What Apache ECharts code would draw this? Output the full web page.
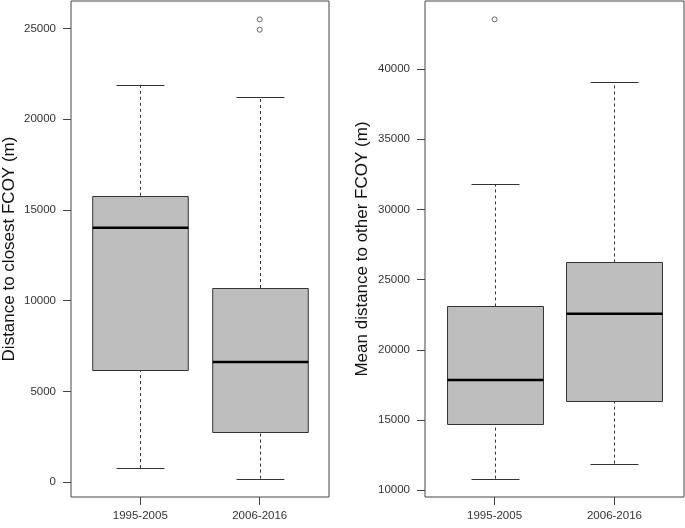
<!DOCTYPE html>
<html>
<head>
<meta charset="utf-8">
<script src="https://cdn.jsdelivr.net/npm/echarts@6/dist/echarts.min.js"></script>
<style>
html,body{margin:0;padding:0;background:#fff;}
#chart{width:685px;height:528px;}
</style>
</head>
<body>
<div id="chart"></div>
<script>
// ---- data ----
const categories = ['1995-2005', '2006-2016'];
// [min whisker, Q1, median, Q3, max whisker]
const closestStats = [
  [780, 6200, 14020, 15780, 21900],
  [200, 2750, 6620, 10700, 21240]
];
const closestOutliers = [[2, 25500], [2, 24930]];
const meanStats = [
  [10830, 14700, 17850, 23090, 31800],
  [11900, 16330, 22570, 26220, 39070]
];
const meanOutliers = [[1, 43530]];
const closestTicks = [0, 5000, 10000, 15000, 20000, 25000];
const meanTicks = [10000, 15000, 20000, 25000, 30000, 35000, 40000];
const closestTitle = 'Distance to closest FCOY (m)';
const meanTitle = 'Mean distance to other FCOY (m)';

// ---- helpers ----
function rng(stats, outs) {
  let lo = Infinity, hi = -Infinity;
  stats.forEach(s => s.forEach(v => { lo = Math.min(lo, v); hi = Math.max(hi, v); }));
  outs.forEach(o => { lo = Math.min(lo, o[1]); hi = Math.max(hi, o[1]); });
  const pad = (hi - lo) * 0.04;
  return [lo - pad, hi + pad];
}
function boxData(stats) {
  return stats.map((s, i) => [i + 1].concat(s));
}
const FONT = 'Liberation Sans, Arial, sans-serif';
const EDGE = '#333';

function renderBox(params, api) {
  const x = api.value(0);
  const mn = api.value(1), q1 = api.value(2), md = api.value(3), q3 = api.value(4), mx = api.value(5);
  const pMin = api.coord([x, mn]), pQ1 = api.coord([x, q1]), pMd = api.coord([x, md]);
  const pQ3 = api.coord([x, q3]), pMax = api.coord([x, mx]);
  const half = api.coord([x + 0.4, md])[0] - pMd[0];
  const cap = api.coord([x + 0.2, md])[0] - pMd[0];
  const cx = Math.round(pMd[0]) + 0.5;
  return {
    type: 'group',
    children: [
      { type: 'line', shape: { x1: cx, y1: pMin[1], x2: cx, y2: pQ1[1] },
        style: { stroke: EDGE, lineWidth: 1, lineDash: [3, 3] } },
      { type: 'line', shape: { x1: cx, y1: pQ3[1], x2: cx, y2: pMax[1] },
        style: { stroke: EDGE, lineWidth: 1, lineDash: [3, 3] } },
      { type: 'line', shape: { x1: cx - cap, y1: Math.round(pMin[1]) + 0.5, x2: cx + cap, y2: Math.round(pMin[1]) + 0.5 },
        style: { stroke: EDGE, lineWidth: 1 } },
      { type: 'line', shape: { x1: cx - cap, y1: Math.round(pMax[1]) + 0.5, x2: cx + cap, y2: Math.round(pMax[1]) + 0.5 },
        style: { stroke: EDGE, lineWidth: 1 } },
      { type: 'rect', shape: { x: cx - half, y: Math.round(pQ3[1]) + 0.5, width: 2 * half, height: Math.round(pQ1[1]) - Math.round(pQ3[1]) },
        style: { fill: '#bebebe', stroke: EDGE, lineWidth: 1 } },
      { type: 'line', shape: { x1: cx - half, y1: pMd[1], x2: cx + half, y2: pMd[1] },
        style: { stroke: '#000', lineWidth: 2.5 } }
    ]
  };
}

function xAxisDef(gi) {
  return {
    type: 'value', gridIndex: gi, min: 0.42, max: 2.58, position: 'bottom',
    splitLine: { show: false },
    axisLine: { show: false, onZero: false },
    axisTick: { show: true, inside: false, length: 8, customValues: [1, 2], lineStyle: { color: '#444' } },
    axisLabel: {
      show: true, customValues: [1, 2], margin: 13,
      formatter: v => categories[Math.round(v) - 1] || '',
      fontFamily: FONT, fontSize: 11.5, color: '#333'
    }
  };
}
function yAxisDef(gi, r, ticks, title, gap) {
  return {
    type: 'value', gridIndex: gi, min: r[0], max: r[1], position: 'left',
    name: title, nameLocation: 'middle', nameGap: gap,
    nameTextStyle: { fontFamily: FONT, fontSize: 17, color: '#111' },
    splitLine: { show: false },
    axisLine: { show: false, onZero: false },
    axisTick: { show: true, inside: false, length: 8, customValues: ticks, lineStyle: { color: '#444' } },
    axisLabel: {
      show: true, customValues: ticks, margin: 15,
      formatter: v => String(Math.round(v)),
      fontFamily: FONT, fontSize: 11.5, color: '#333'
    }
  };
}

const r1 = rng(closestStats, closestOutliers);
const r2 = rng(meanStats, meanOutliers);

const chart = echarts.init(document.getElementById('chart'), null, { renderer: 'canvas' });
chart.setOption({
  animation: false,
  backgroundColor: '#fff',
  grid: [
    { left: 69, top: 1, width: 260, height: 496, show: true, borderColor: '#444', borderWidth: 1, backgroundColor: 'transparent' },
    { left: 425, top: 1, width: 259, height: 496, show: true, borderColor: '#444', borderWidth: 1, backgroundColor: 'transparent' }
  ],
  xAxis: [xAxisDef(0), xAxisDef(1)],
  yAxis: [
    yAxisDef(0, r1, closestTicks, closestTitle, 53),
    yAxisDef(1, r2, meanTicks, meanTitle, 54)
  ],
  series: [
    { type: 'custom', xAxisIndex: 0, yAxisIndex: 0, renderItem: renderBox,
      encode: { x: 0, y: [1, 2, 3, 4, 5] }, data: boxData(closestStats) },
    { type: 'custom', xAxisIndex: 1, yAxisIndex: 1, renderItem: renderBox,
      encode: { x: 0, y: [1, 2, 3, 4, 5] }, data: boxData(meanStats) },
    { type: 'scatter', xAxisIndex: 0, yAxisIndex: 0, symbol: 'circle', symbolSize: 5,
      itemStyle: { color: '#fff', borderColor: '#444', borderWidth: 1 }, data: closestOutliers },
    { type: 'scatter', xAxisIndex: 1, yAxisIndex: 1, symbol: 'circle', symbolSize: 5,
      itemStyle: { color: '#fff', borderColor: '#444', borderWidth: 1 }, data: meanOutliers }
  ]
});
</script>
</body>
</html>
